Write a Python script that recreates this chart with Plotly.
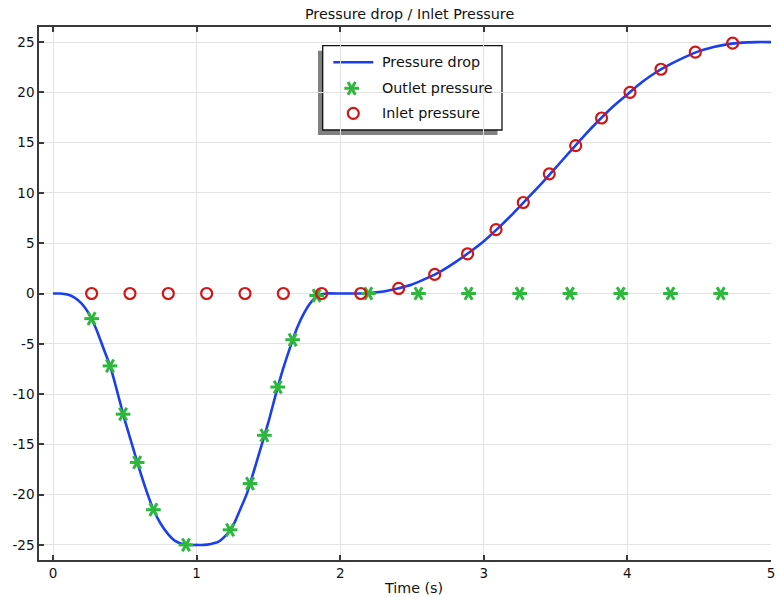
import plotly.graph_objects as go

# ---------------- data ----------------
curve_t = [0, 0.05, 0.10, 0.15, 0.20, 0.25, 0.30, 0.35, 0.40, 0.45, 0.50, 0.55, 0.60, 0.65,
           0.70, 0.75, 0.80, 0.85, 0.90, 0.95, 1.00, 1.05, 1.10, 1.15, 1.20, 1.25, 1.30, 1.35,
           1.40, 1.45, 1.50, 1.55, 1.60, 1.65, 1.70, 1.75, 1.80, 1.85, 1.90, 2.00, 2.10, 2.20,
           2.30, 2.40, 2.50, 2.60, 2.70, 2.80, 2.90, 3.00, 3.10, 3.20, 3.30, 3.40, 3.50, 3.60,
           3.70, 3.80, 3.90, 4.00, 4.10, 4.20, 4.30, 4.40, 4.50, 4.60, 4.70, 4.80, 4.90, 5.00]
pressure_drop = [0, 0, -0.1, -0.4, -1.0, -2.0, -3.5, -5.4, -7.3, -9.9, -12.6, -15.0, -17.4, -19.6,
                 -21.5, -22.9, -23.9, -24.6, -24.9, -25.0, -25.0, -25.0, -24.9, -24.7, -24.1, -23.2, -21.6, -19.9,
                 -17.6, -15.2, -12.8, -10.1, -7.6, -5.4, -3.4, -1.9, -0.8, -0.2, 0, 0, 0, 0.05,
                 0.2, 0.5, 0.9, 1.5, 2.2, 3.1, 4.1, 5.2, 6.5, 7.9, 9.4, 10.9, 12.5, 14.1,
                 15.7, 17.2, 18.6, 19.8, 21.0, 22.0, 22.8, 23.5, 24.1, 24.5, 24.8, 24.95, 25.0, 25.0]

outlet_t = [0.269, 0.397, 0.488, 0.586, 0.699, 0.926, 1.233, 1.372, 1.472, 1.565, 1.669, 1.836,
            2.196, 2.545, 2.894, 3.25, 3.60, 3.954, 4.30, 4.65]
outlet_p = [-2.5, -7.2, -12.0, -16.8, -21.5, -25.0, -23.5, -18.9, -14.1, -9.3, -4.6, -0.2,
            0, 0, 0, 0, 0, 0, 0, 0]

inlet_t = [0.269, 0.536, 0.803, 1.070, 1.337, 1.604, 1.871, 2.143, 2.407, 2.658, 2.887, 3.085,
           3.275, 3.456, 3.64, 3.82, 4.018, 4.234, 4.473, 4.733]
inlet_p = [0, 0, 0, 0, 0, 0, 0, 0, 0.5, 1.9, 3.95, 6.35, 9.05, 11.9, 14.7, 17.45, 20.0, 22.3, 24.0, 24.9]

x_ticks = [0, 1, 2, 3, 4, 5]
y_ticks = [-25, -20, -15, -10, -5, 0, 5, 10, 15, 20, 25]
y_ticktext = [str(v) for v in y_ticks]

series_names = ["Pressure drop", "Outlet pressure", "Inlet pressure"]
title_text = "Pressure drop / Inlet Pressure"
x_title = "Time (s)"

# ---------------- style ----------------
BLUE = "#1a3ff0"
GREEN = "#2db83d"
RED = "#d41515"
FONT = "DejaVu Sans"
TXT = 14.3
TICK = 13.5
AX = "#3a3a3a"
GRID = "#e2e2e2"

W, H = 778, 597
L, R, T, B = 39, 771, 27, 560   # plot area edges in page pixels

fig = go.Figure()

fig.add_trace(go.Scatter(x=curve_t, y=pressure_drop, mode="lines",
                         line=dict(color=BLUE, width=2.6, shape="spline", smoothing=0.6),
                         showlegend=False, hoverinfo="skip"))

# six-armed star markers built from three rotated line markers
for ang in (0, 60, 120):
    fig.add_trace(go.Scatter(x=outlet_t, y=outlet_p, mode="markers",
                             marker=dict(symbol="line-ew-open", size=10.5, angle=ang, color=GREEN,
                                         line=dict(color=GREEN, width=3)),
                             showlegend=False, hoverinfo="skip"))

fig.add_trace(go.Scatter(x=inlet_t, y=inlet_p, mode="markers",
                         marker=dict(symbol="circle-open", size=11, color=RED, line=dict(color=RED, width=2.2)),
                         showlegend=False, hoverinfo="skip"))

# ---------------- manual legend ----------------
def px(x):
    return (x - L) / (R - L)
def py(y):
    return (B - y) / (B - T)

shapes = [
    dict(type="rect", xref="paper", yref="paper", layer="between",
         x0=px(318), x1=px(497.5), y0=py(135), y1=py(50.7), fillcolor="#808080", line=dict(width=0)),
    dict(type="rect", xref="paper", yref="paper", layer="between",
         x0=px(322.7), x1=px(502), y0=py(130), y1=py(45.7), fillcolor="white", line=dict(color="#111111", width=1.3)),
    dict(type="line", xref="paper", yref="paper", layer="between",
         x0=px(333.3), x1=px(373.3), y0=py(62.3), y1=py(62.3), line=dict(color=BLUE, width=2.6)),
]

for ang in (0, 60, 120):
    fig.add_trace(go.Scatter(x=[px(351.7)], y=[py(88.3)], xaxis="x2", yaxis="y2", mode="markers",
                             marker=dict(symbol="line-ew-open", size=10.5, angle=ang, color=GREEN,
                                         line=dict(color=GREEN, width=3)),
                             showlegend=False, hoverinfo="skip"))
fig.add_trace(go.Scatter(x=[px(353.3)], y=[py(113.3)], xaxis="x2", yaxis="y2", mode="markers",
                         marker=dict(symbol="circle-open", size=11, color=RED, line=dict(color=RED, width=2.2)),
                         showlegend=False, hoverinfo="skip"))

annotations = []
for name, yy in zip(series_names, (62.3, 88.3, 113.3)):
    annotations.append(dict(text=name, xref="paper", yref="paper", x=px(380), y=py(yy),
                            xanchor="left", yanchor="middle", showarrow=False,
                            font=dict(family=FONT, size=TXT, color="#111111")))
annotations.append(dict(text=x_title, xref="paper", yref="paper", x=px(413), y=py(588),
                        xanchor="center", yanchor="middle", showarrow=False,
                        font=dict(family=FONT, size=TXT, color="#111111")))
annotations.append(dict(text=title_text, xref="paper", yref="paper", x=px(410), y=py(14.5),
                        xanchor="center", yanchor="middle", showarrow=False,
                        font=dict(family=FONT, size=TXT, color="#111111")))

fig.update_layout(
    width=W, height=H,
    margin=dict(l=L, r=W - R, t=T, b=H - B, pad=0, autoexpand=False),
    paper_bgcolor="white", plot_bgcolor="white",
    font=dict(family=FONT, size=TICK, color="#111111"),
    showlegend=False,
    shapes=shapes,
    annotations=annotations,
    xaxis=dict(range=[-0.0975, 5], tickvals=x_ticks, ticks="inside", ticklen=5, tickwidth=1.5,
               tickcolor=AX, showline=True, linecolor=AX, linewidth=1.5, mirror="ticks",
               showgrid=True, gridcolor=GRID, gridwidth=1, zeroline=False, automargin=False,
               tickfont=dict(family=FONT, size=TICK, color="#111111")),
    yaxis=dict(range=[-26.5, 26.5], tickvals=y_ticks, ticktext=y_ticktext, ticks="inside", ticklen=5,
               tickwidth=1.5, tickcolor=AX, showline=True, linecolor=AX, linewidth=1.5, mirror=False,
               showgrid=True, gridcolor=GRID, gridwidth=1, zeroline=False, automargin=False,
               tickfont=dict(family=FONT, size=TICK, color="#111111")),
    xaxis2=dict(overlaying="x", range=[0, 1], visible=False, fixedrange=True),
    yaxis2=dict(overlaying="y", range=[0, 1], visible=False, fixedrange=True),
)

# remove the browser's default 8px body margin so the 778x597 figure fills the window exactly
fig.write_html("out.html", config={"displayModeBar": False},
               post_script="document.body.style.margin='0px';document.body.style.overflow='hidden';")
